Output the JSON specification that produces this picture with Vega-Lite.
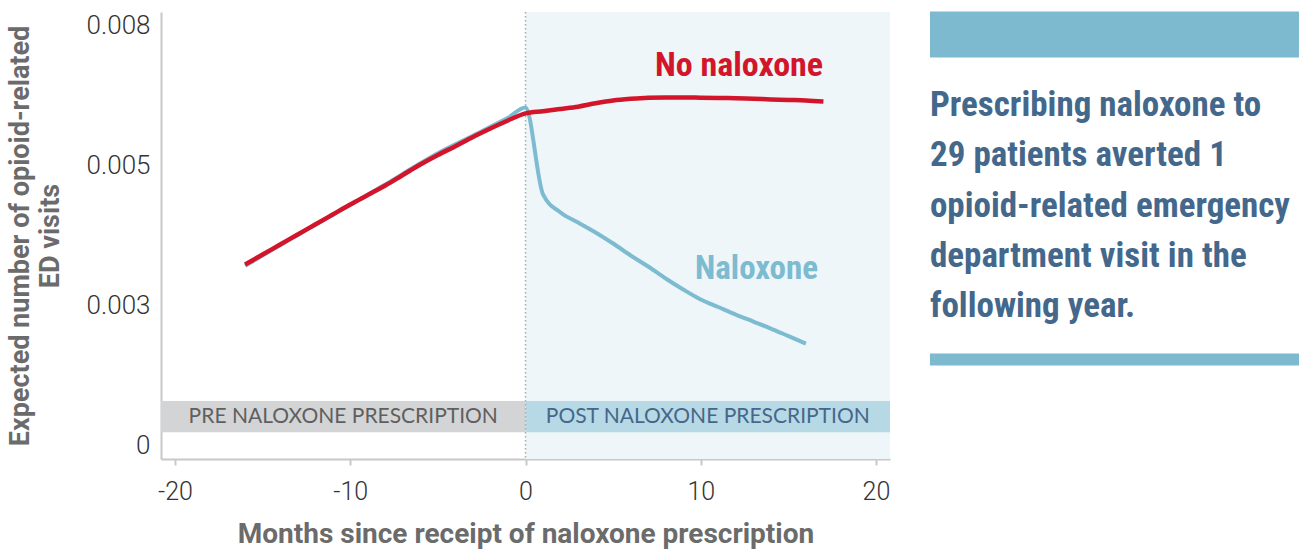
{
  "$schema": "https://vega.github.io/schema/vega-lite/v6.json",
  "width": 729,
  "height": 447,
  "autosize": {"type": "none"},
  "padding": {"left": 161, "top": 12, "right": 419, "bottom": 93},
  "background": "white",
  "config": {"view": {"stroke": null}, "font": "Roboto"},
  "datasets": {
    "curves": [
      {"series": "No naloxone", "month": -16, "value": 0.003232},
      {"series": "No naloxone", "month": -15, "value": 0.003411},
      {"series": "No naloxone", "month": -14, "value": 0.003589},
      {"series": "No naloxone", "month": -13, "value": 0.003768},
      {"series": "No naloxone", "month": -12, "value": 0.003946},
      {"series": "No naloxone", "month": -11, "value": 0.004125},
      {"series": "No naloxone", "month": -10, "value": 0.004304},
      {"series": "No naloxone", "month": -9, "value": 0.004473},
      {"series": "No naloxone", "month": -8, "value": 0.004643},
      {"series": "No naloxone", "month": -7, "value": 0.00483},
      {"series": "No naloxone", "month": -6, "value": 0.005018},
      {"series": "No naloxone", "month": -5, "value": 0.005188},
      {"series": "No naloxone", "month": -4, "value": 0.005345},
      {"series": "No naloxone", "month": -3, "value": 0.005509},
      {"series": "No naloxone", "month": -2, "value": 0.005661},
      {"series": "No naloxone", "month": -1, "value": 0.005804},
      {"series": "No naloxone", "month": 0, "value": 0.005929},
      {"series": "No naloxone", "month": 1, "value": 0.00597},
      {"series": "No naloxone", "month": 2, "value": 0.00601},
      {"series": "No naloxone", "month": 3, "value": 0.00605},
      {"series": "No naloxone", "month": 4, "value": 0.00611},
      {"series": "No naloxone", "month": 5, "value": 0.00616},
      {"series": "No naloxone", "month": 6, "value": 0.00619},
      {"series": "No naloxone", "month": 7, "value": 0.00621},
      {"series": "No naloxone", "month": 8, "value": 0.006215},
      {"series": "No naloxone", "month": 9, "value": 0.006215},
      {"series": "No naloxone", "month": 10, "value": 0.00621},
      {"series": "No naloxone", "month": 11, "value": 0.006205},
      {"series": "No naloxone", "month": 12, "value": 0.0062},
      {"series": "No naloxone", "month": 13, "value": 0.00619},
      {"series": "No naloxone", "month": 14, "value": 0.00618},
      {"series": "No naloxone", "month": 15, "value": 0.00617},
      {"series": "No naloxone", "month": 16, "value": 0.00616},
      {"series": "No naloxone", "month": 17, "value": 0.006143},
      {"series": "Naloxone", "month": -16, "value": 0.00321},
      {"series": "Naloxone", "month": -15, "value": 0.003395},
      {"series": "Naloxone", "month": -14, "value": 0.00358},
      {"series": "Naloxone", "month": -13, "value": 0.00376},
      {"series": "Naloxone", "month": -12, "value": 0.00394},
      {"series": "Naloxone", "month": -11, "value": 0.00412},
      {"series": "Naloxone", "month": -10, "value": 0.0043},
      {"series": "Naloxone", "month": -9, "value": 0.00448},
      {"series": "Naloxone", "month": -8, "value": 0.00466},
      {"series": "Naloxone", "month": -7, "value": 0.00485},
      {"series": "Naloxone", "month": -6, "value": 0.00504},
      {"series": "Naloxone", "month": -5, "value": 0.00522},
      {"series": "Naloxone", "month": -4, "value": 0.00538},
      {"series": "Naloxone", "month": -3, "value": 0.00553},
      {"series": "Naloxone", "month": -2, "value": 0.00569},
      {"series": "Naloxone", "month": -1, "value": 0.00585},
      {"series": "Naloxone", "month": 0, "value": 0.006036},
      {"series": "Naloxone", "month": 1, "value": 0.004482},
      {"series": "Naloxone", "month": 2, "value": 0.004161},
      {"series": "Naloxone", "month": 3, "value": 0.003982},
      {"series": "Naloxone", "month": 4, "value": 0.003804},
      {"series": "Naloxone", "month": 5, "value": 0.003607},
      {"series": "Naloxone", "month": 6, "value": 0.003393},
      {"series": "Naloxone", "month": 7, "value": 0.003196},
      {"series": "Naloxone", "month": 8, "value": 0.002982},
      {"series": "Naloxone", "month": 9, "value": 0.002786},
      {"series": "Naloxone", "month": 10, "value": 0.002607},
      {"series": "Naloxone", "month": 11, "value": 0.002473},
      {"series": "Naloxone", "month": 12, "value": 0.002339},
      {"series": "Naloxone", "month": 13, "value": 0.002214},
      {"series": "Naloxone", "month": 14, "value": 0.002089},
      {"series": "Naloxone", "month": 15, "value": 0.001955},
      {"series": "Naloxone", "month": 16, "value": 0.001821}
    ],
    "periods": [
      {"period": "PRE NALOXONE PRESCRIPTION", "start": -20.8, "end": 0, "mid": -10.4},
      {"period": "POST NALOXONE PRESCRIPTION", "start": 0, "end": 20.8, "mid": 10.4}
    ],
    "notes": [
      {"note": "Prescribing naloxone to\n29 patients averted 1\nopioid-related emergency\ndepartment visit in the\nfollowing year."}
    ],
    "one": [{}]
  },
  "layer": [
    {
      "data": {"name": "periods"},
      "transform": [{"filter": "datum.start >= 0"}],
      "mark": {"type": "rect", "color": "#EEF6F9"},
      "encoding": {
        "x": {"field": "start", "type": "quantitative", "scale": {"domain": [-20.8, 20.8], "nice": false, "zero": false}},
        "x2": {"field": "end"}
      }
    },
    {
      "data": {"name": "periods"},
      "mark": {"type": "rect"},
      "encoding": {
        "x": {"field": "start", "type": "quantitative", "scale": {"domain": [-20.8, 20.8], "nice": false, "zero": false}},
        "x2": {"field": "end"},
        "y": {"datum": 0.000237, "type": "quantitative", "scale": {"domain": [-0.00024, 0.00774], "nice": false, "zero": false}},
        "y2": {"datum": 0.000796},
        "color": {"field": "period", "type": "nominal", "scale": {"domain": ["PRE NALOXONE PRESCRIPTION", "POST NALOXONE PRESCRIPTION"], "range": ["#D3D4D6", "#B7D9E6"]}, "legend": null}
      }
    },
    {
      "data": {"name": "periods"},
      "mark": {"type": "text", "font": "Lato", "fontSize": 21, "align": "center", "baseline": "middle"},
      "encoding": {
        "x": {"field": "mid", "type": "quantitative", "scale": {"domain": [-20.8, 20.8], "nice": false, "zero": false}},
        "y": {"datum": 0.000518, "type": "quantitative", "scale": {"domain": [-0.00024, 0.00774], "nice": false, "zero": false}},
        "text": {"field": "period"},
        "color": {"condition": {"test": "datum.start < 0", "value": "#5F5F5F"}, "value": "#45678A"}
      }
    },
    {
      "data": {"name": "one"},
      "mark": {"type": "rule", "color": "#AAAAAA", "strokeWidth": 1.5, "strokeDash": [1.5, 2.5]},
      "encoding": {
        "x": {"datum": 0, "type": "quantitative", "scale": {"domain": [-20.8, 20.8], "nice": false, "zero": false}}
      }
    },
    {
      "data": {"name": "curves"},
      "transform": [{"filter": "datum.series == 'Naloxone'"}],
      "mark": {"type": "line", "color": "#7DBBD1", "strokeWidth": 4, "interpolate": "monotone"},
      "encoding": {
        "x": {"field": "month", "type": "quantitative", "scale": {"domain": [-20.8, 20.8], "nice": false, "zero": false},
          "title": "Months since receipt of naloxone prescription",
          "axis": {
            "values": [-20, -10, 0, 10, 20], "grid": false,
            "labelExpr": "'' + datum.value",
            "domainColor": "#C8C8C8", "domainWidth": 2,
            "tickColor": "#C8C8C8", "tickSize": 6, "tickWidth": 2,
            "labelFont": "Roboto", "labelFontWeight": 300, "labelFontSize": 25, "labelColor": "#333333", "labelPadding": 14,
            "titleFont": "Roboto", "titleFontWeight": "bold", "titleFontSize": 28, "titleColor": "#6B6B6B", "titlePadding": 16
          }
        },
        "y": {"field": "value", "type": "quantitative", "scale": {"domain": [-0.00024, 0.00774], "nice": false, "zero": false},
          "title": ["Expected number of opioid-related", "ED visits"],
          "axis": {
            "values": [0, 0.0025, 0.005, 0.0075], "grid": false, "ticks": false,
            "labelExpr": "datum.value == 0 ? '0' : datum.value < 0.003 ? '0.003' : datum.value < 0.006 ? '0.005' : '0.008'",
            "domainColor": "#C8C8C8", "domainWidth": 2,
            "labelFont": "Roboto", "labelFontWeight": 300, "labelFontSize": 26, "labelColor": "#333333", "labelPadding": 11,
            "titleFont": "Roboto", "titleFontWeight": "bold", "titleFontSize": 27, "titleColor": "#6B6B6B", "titlePadding": 22, "titleLineHeight": 30
          }
        }
      }
    },
    {
      "data": {"name": "curves"},
      "transform": [{"filter": "datum.series == 'No naloxone'"}],
      "mark": {"type": "line", "color": "#D2152B", "strokeWidth": 4.5, "interpolate": "monotone"},
      "encoding": {
        "x": {"field": "month", "type": "quantitative", "scale": {"domain": [-20.8, 20.8], "nice": false, "zero": false}},
        "y": {"field": "value", "type": "quantitative", "scale": {"domain": [-0.00024, 0.00774], "nice": false, "zero": false}}
      }
    },
    {
      "data": {"name": "one"},
      "mark": {"type": "text", "text": "No naloxone", "font": "Roboto Condensed, Liberation Sans Narrow, DejaVu Sans Condensed, Roboto", "fontWeight": "bold", "fontSize": 34, "color": "#D2152B", "align": "right", "baseline": "alphabetic"},
      "encoding": {
        "x": {"datum": 16.98, "type": "quantitative", "scale": {"domain": [-20.8, 20.8], "nice": false, "zero": false}},
        "y": {"datum": 0.006593, "type": "quantitative", "scale": {"domain": [-0.00024, 0.00774], "nice": false, "zero": false}}
      }
    },
    {
      "data": {"name": "one"},
      "mark": {"type": "text", "text": "Naloxone", "font": "Roboto Condensed, Liberation Sans Narrow, DejaVu Sans Condensed, Roboto", "fontWeight": "bold", "fontSize": 33, "color": "#7DBBD1", "align": "right", "baseline": "alphabetic"},
      "encoding": {
        "x": {"datum": 16.69, "type": "quantitative", "scale": {"domain": [-20.8, 20.8], "nice": false, "zero": false}},
        "y": {"datum": 0.002969, "type": "quantitative", "scale": {"domain": [-0.00024, 0.00774], "nice": false, "zero": false}}
      }
    },
    {
      "data": {"name": "one"},
      "mark": {"type": "rect", "color": "#7DBAD0"},
      "encoding": {
        "x": {"datum": 23.08, "type": "quantitative", "scale": {"domain": [-20.8, 20.8], "nice": false, "zero": false}},
        "x2": {"datum": 44.14},
        "y": {"datum": 0.00775, "type": "quantitative", "scale": {"domain": [-0.00024, 0.00774], "nice": false, "zero": false}},
        "y2": {"datum": 0.006929}
      }
    },
    {
      "data": {"name": "one"},
      "mark": {"type": "rect", "color": "#7DBAD0"},
      "encoding": {
        "x": {"datum": 23.08, "type": "quantitative", "scale": {"domain": [-20.8, 20.8], "nice": false, "zero": false}},
        "x2": {"datum": 44.14},
        "y": {"datum": 0.001643, "type": "quantitative", "scale": {"domain": [-0.00024, 0.00774], "nice": false, "zero": false}},
        "y2": {"datum": 0.001429}
      }
    },
    {
      "data": {"name": "notes"},
      "mark": {"type": "text", "font": "Roboto Condensed, Liberation Sans Narrow, DejaVu Sans Condensed, Roboto", "fontWeight": "bold", "fontSize": 35, "color": "#44688B", "align": "left", "baseline": "alphabetic", "lineBreak": "\n", "lineHeight": 50.3},
      "encoding": {
        "x": {"datum": 23.08, "type": "quantitative", "scale": {"domain": [-20.8, 20.8], "nice": false, "zero": false}},
        "y": {"datum": 0.005884, "type": "quantitative", "scale": {"domain": [-0.00024, 0.00774], "nice": false, "zero": false}},
        "text": {"field": "note"}
      }
    }
  ]
}
